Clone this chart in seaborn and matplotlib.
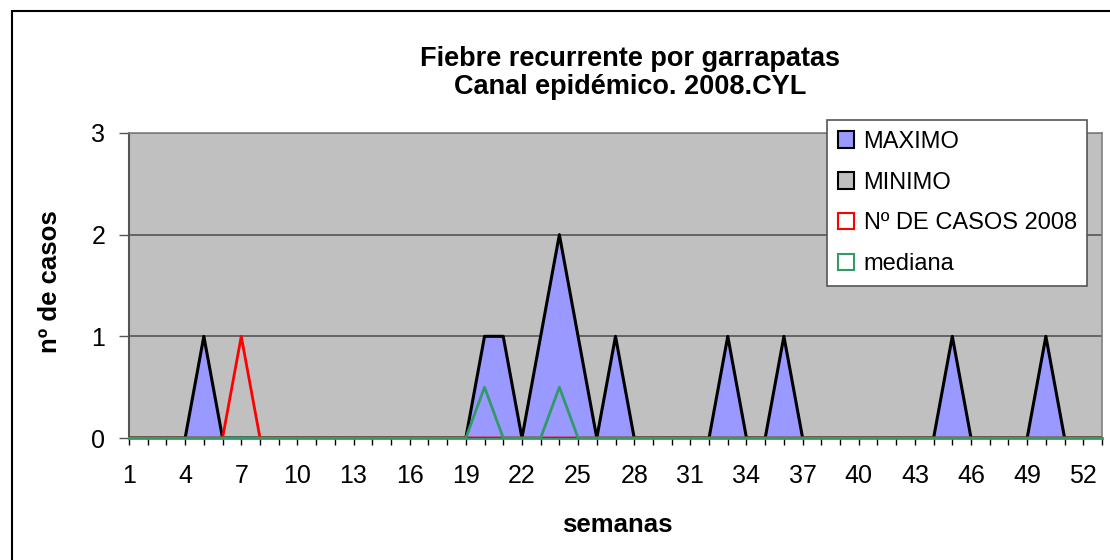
import numpy as np
import pandas as pd
import matplotlib.pyplot as plt
import matplotlib.patches as mpatches
import seaborn as sns

sns.set_style("white")
plt.rcParams['font.family'] = ['Liberation Sans', 'DejaVu Sans']
plt.rcParams['text.color'] = 'black'
plt.rcParams['xtick.labelcolor'] = 'black'
plt.rcParams['ytick.labelcolor'] = 'black'

# ========== datos ==========
semanas = list(range(1, 54))
maximo = [0, 0, 0, 0, 1, 0, 0, 0, 0, 0,
          0, 0, 0, 0, 0, 0, 0, 0, 0, 1,
          1, 0, 1, 2, 1, 0, 1, 0, 0, 0,
          0, 0, 1, 0, 0, 1, 0, 0, 0, 0,
          0, 0, 0, 0, 1, 0, 0, 0, 0, 1,
          0, 0, 0]
minimo = [0] * 53
casos_2008 = [0, 0, 0, 0, 0, 0, 1, 0, 0, 0,
              0, 0, 0, 0, 0, 0, 0, 0, 0, 0,
              0, 0, 0, 0, 0, 0, 0, 0, 0, 0,
              0, 0, 0, 0, 0, 0, 0, 0, 0, 0,
              0, 0, 0, 0, 0, 0, 0, 0, 0, 0,
              0, 0, 0]
mediana = [0, 0, 0, 0, 0, 0, 0, 0, 0, 0,
           0, 0, 0, 0, 0, 0, 0, 0, 0, 0.5,
           0, 0, 0, 0.5, 0, 0, 0, 0, 0, 0,
           0, 0, 0, 0, 0, 0, 0, 0, 0, 0,
           0, 0, 0, 0, 0, 0, 0, 0, 0, 0,
           0, 0, 0]
etiquetas_x = [str(s) if (s - 1) % 3 == 0 else "" for s in semanas]

df = pd.DataFrame({"semana": semanas, "MAXIMO": maximo, "MINIMO": minimo,
                   "casos": casos_2008, "mediana": mediana})

col_max = "#9999FF"
col_min = "#C0C0C0"
col_casos = "#FF0000"
col_med = "#339966"

fig = plt.figure(figsize=(11.1, 5.6), dpi=100)
ax = fig.add_axes([129/1110, 1 - 438/560, (1102-129)/1110, (438-133)/560])
ax.set_facecolor(col_min)

# marco del grafico
fig.patches.append(mpatches.Rectangle((12/1110, -0.2), 1.2, 1.2 - 11/560,
                                      transform=fig.transFigure, fill=False,
                                      edgecolor="black", lw=1.5, zorder=0))

# areas
ax.fill_between(df["semana"], df["MAXIMO"], color=col_max, zorder=2, lw=0)
sns.lineplot(data=df, x="semana", y="MAXIMO", color="black", lw=2.2, ax=ax, zorder=3)
ax.fill_between(df["semana"], df["MINIMO"], color=col_min, zorder=3, lw=0)
sns.lineplot(data=df, x="semana", y="MINIMO", color="black", lw=1.5, ax=ax, zorder=3)

# lineas
sns.lineplot(data=df, x="semana", y="casos", color=col_casos, lw=2, ax=ax, zorder=4)
sns.lineplot(data=df, x="semana", y="mediana", color=col_med, lw=2, ax=ax, zorder=5)

ax.set_xlim(1, 53)
ax.set_ylim(0, 3)
ax.set_yticks([0, 1, 2, 3])
ax.set_xticks(semanas)
ax.set_xticklabels(etiquetas_x)
ax.yaxis.grid(True, color="#555555", lw=1.2, zorder=1)
ax.set_axisbelow(True)
ax.tick_params(axis="x", direction="out", length=5, width=1, color="black",
               labelsize=18, pad=14, bottom=True)
ax.tick_params(axis="y", direction="out", length=7, width=1, color="#555555",
               labelsize=18, pad=10, left=True)
for s in ["top", "right"]:
    ax.spines[s].set_color("#808080")
    ax.spines[s].set_linewidth(1.2)
ax.spines["left"].set_color("#555555")
ax.spines["left"].set_linewidth(1.5)
ax.spines["bottom"].set_color(col_med)
ax.spines["bottom"].set_linewidth(2)

ax.set_xlabel("")
ax.set_ylabel("")
fig.text(617/1110, 1 - 532/560, "semanas", ha="center", va="baseline",
         fontsize=18.5, fontweight="bold")
fig.text(50/1110, 1 - 282/560, "nº de casos", ha="center", va="center",
         rotation=90, fontsize=18.5, fontweight="bold")
fig.text(630/1110, 1 - 66/560, "Fiebre recurrente por garrapatas",
         ha="center", va="baseline", fontsize=19.5, fontweight="bold")
fig.text(630/1110, 1 - 94/560, "Canal epidémico. 2008.CYL",
         ha="center", va="baseline", fontsize=19.5, fontweight="bold")

# leyenda
handles = [
    mpatches.Patch(facecolor=col_max, edgecolor="black", lw=1.5, label="MAXIMO"),
    mpatches.Patch(facecolor=col_min, edgecolor="black", lw=1.5, label="MINIMO"),
    mpatches.Patch(facecolor="white", edgecolor=col_casos, lw=1.5, label="Nº DE CASOS 2008"),
    mpatches.Patch(facecolor="white", edgecolor=col_med, lw=1.5, label="mediana"),
]
leg = fig.legend(handles=handles, loc="upper left", bbox_to_anchor=(827/1110, 1 - 120/560),
                 fontsize=17, frameon=True, fancybox=False, shadow=False, framealpha=1,
                 handlelength=0.7, handleheight=0.7, handletextpad=0.4,
                 labelspacing=0.8, borderpad=0.45, borderaxespad=0)
leg.get_frame().set_edgecolor("#555555")
leg.get_frame().set_facecolor("white")
leg.get_frame().set_linewidth(1.2)
leg.set_zorder(10)

fig.savefig("out.png", dpi=100)
plt.close()
